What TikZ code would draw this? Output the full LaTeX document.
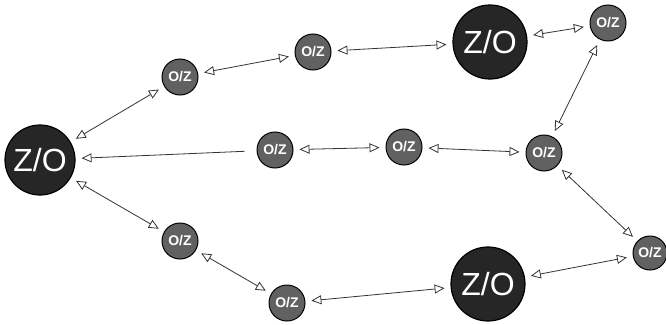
\documentclass[tikz,border=0pt]{standalone}
\usepackage{fontspec}
\setmainfont{Liberation Sans}
\usetikzlibrary{arrows.meta}
\begin{document}
\begin{tikzpicture}[x=1pt,y=-1pt,
  bignode/.style={circle,draw=black,line width=1.2pt,fill=black!85,minimum size=70pt,inner sep=0pt,
    text=white,font=\fontsize{32}{32}\selectfont},
  smallnode/.style={circle,draw=black,line width=1pt,fill=black!62,minimum size=36pt,inner sep=0pt,
    text=white,font=\fontsize{14}{14}\selectfont\bfseries},
  link/.style={line width=0.8pt,black!80,{Triangle[open,length=10pt,width=9pt]}-{Triangle[open,length=10pt,width=9pt]},
    shorten <=6pt,shorten >=6pt},
  onelink/.style={line width=0.8pt,black!80,-{Triangle[open,length=10pt,width=9pt]},
    shorten <=6pt,shorten >=6pt}]
\useasboundingbox (0,0) rectangle (666,324);
% hubs
\node[bignode] (zl) at (40,160) {Z/O};
\node[bignode,minimum size=74pt] (zt) at (490,42) {Z/O};
\node[bignode,minimum size=74pt] (zb) at (488,284) {Z/O};
% relays
\node[smallnode] (a) at (180,77) {O/Z};
\node[smallnode] (b) at (313,52) {O/Z};
\node[smallnode] (c) at (608,23) {O/Z};
\node[smallnode] (m1) at (275,150) {O/Z};
\node[smallnode] (m2) at (404,147) {O/Z};
\node[smallnode] (m3) at (544,153) {O/Z};
\node[smallnode] (d) at (180,241) {O/Z};
\node[smallnode] (e) at (287,303) {O/Z};
\node[smallnode,minimum size=34pt] (f) at (650,253) {O/Z};
% links
\draw[link] (a) -- (zl);
\draw[link] (a) -- (b);
\draw[link] (b) -- (zt);
\draw[link] (zt) -- (c);
\draw[link] (c) -- (m3);
\draw[onelink,shorten <=12pt] (m1) -- (zl);
\draw[link] (m1) -- (m2);
\draw[link] (m2) -- (m3);
\draw[link] (m3) -- (f);
\draw[link] (zl) -- (d);
\draw[link] (d) -- (e);
\draw[link] (e) -- (zb);
\draw[link] (zb) -- (f);
\end{tikzpicture}
\end{document}
